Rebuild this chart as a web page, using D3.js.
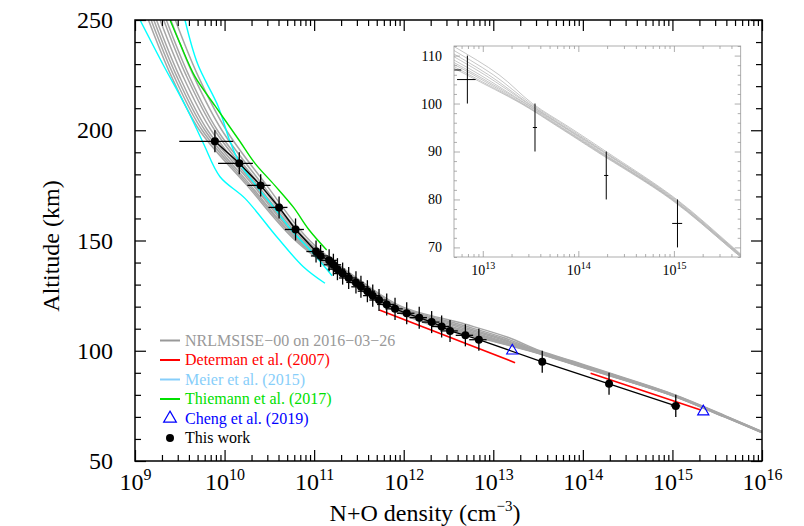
<!DOCTYPE html>
<html>
<head>
<meta charset="utf-8">
<script src="https://cdn.jsdelivr.net/npm/d3@7"></script>
<style>
  body { margin: 0; background: #fff; }
  svg, svg text { font-family: "Liberation Serif", "Times New Roman", serif; }
</style>
</head>
<body>
<svg id="chart" width="804" height="526"></svg>
<script>
// ---- data ----
// this work: altitude (km), N+O density (cm^-3), relative density error
var thisAlt = [195, 185, 175, 165, 155, 145, 143, 141, 139, 137, 135, 133, 131, 129, 127, 125, 123, 121, 119, 117, 115, 113, 111, 109, 107, 105, 95, 85, 75];
var thisDens = [7.8e9, 1.46e10, 2.53e10, 4.06e10, 6.2e10, 1.05e11, 1.18e11, 1.47e11, 1.64e11, 1.82e11, 2.08e11, 2.43e11, 2.93e11, 3.33e11, 3.93e11, 4.51e11, 5.3e11, 6.46e11, 8.0e11, 1.08e12, 1.49e12, 2.05e12, 2.65e12, 3.29e12, 4.88e12, 6.9e12, 3.52e13, 1.96e14, 1.09e15];
var thisDensErr = [0.6, 0.42, 0.29, 0.24, 0.24, 0.22, 0.22, 0.22, 0.22, 0.22, 0.22, 0.22, 0.22, 0.22, 0.22, 0.22, 0.22, 0.22, 0.22, 0.22, 0.22, 0.22, 0.22, 0.22, 0.22, 0.22, 0.05, 0.05, 0.12];
var altErr = 5;

// NRLMSISE-00 profiles: log10 density at each altitude
var msisAlt = [250, 225, 200, 175, 150, 130, 120, 112, 106, 100, 95, 90, 80, 70, 63];
var msisLogDens = [
  [9.15, 9.40, 9.72, 10.25, 10.79, 11.44, 11.80, 12.28, 12.83, 13.40, 13.80, 14.19, 14.97, 15.58, 15.99],
  [9.18, 9.43, 9.75, 10.27, 10.81, 11.45, 11.82, 12.32, 12.86, 13.41, 13.81, 14.20, 14.98, 15.58, 15.99],
  [9.21, 9.46, 9.78, 10.29, 10.82, 11.47, 11.84, 12.36, 12.90, 13.42, 13.82, 14.21, 14.98, 15.59, 16.00],
  [9.24, 9.49, 9.81, 10.32, 10.84, 11.48, 11.85, 12.40, 12.93, 13.44, 13.83, 14.22, 14.99, 15.59, 16.00],
  [9.28, 9.53, 9.85, 10.34, 10.86, 11.50, 11.88, 12.45, 12.97, 13.45, 13.85, 14.23, 14.99, 15.60, 16.00],
  [9.32, 9.57, 9.89, 10.37, 10.88, 11.52, 11.90, 12.51, 13.02, 13.47, 13.86, 14.25, 15.00, 15.60, 16.01],
  [9.35, 9.60, 9.92, 10.40, 10.90, 11.54, 11.92, 12.56, 13.06, 13.48, 13.87, 14.26, 15.01, 15.61, 16.01],
  [9.40, 9.65, 9.97, 10.43, 10.92, 11.56, 11.95, 12.62, 13.11, 13.50, 13.89, 14.27, 15.02, 15.61, 16.02],
  [9.45, 9.70, 10.02, 10.47, 10.95, 11.58, 11.98, 12.69, 13.17, 13.52, 13.91, 14.29, 15.03, 15.62, 16.02]
];

// Meier et al. (2015), two profiles
var meierAltA = [250, 229.6, 210, 194.1, 178.9, 169.1, 151.7, 138.1, 130.6];
var meierLogA = [9.056, 9.316, 9.577, 9.763, 9.949, 10.228, 10.582, 10.879, 11.121];
var meierAltB = [250, 230, 210.7, 195, 185, 175, 165, 155, 145, 138, 134];
var meierLogB = [9.558, 9.70, 9.93, 10.06, 10.17, 10.35, 10.55, 10.74, 10.97, 11.12, 11.2];

// Thiemann et al. (2017)
var thiemAlt = [250, 239.4, 224.3, 210.7, 195, 185, 175, 165, 155, 145.7];
var thiemLog = [9.391, 9.502, 9.670, 9.90, 10.17, 10.34, 10.56, 10.77, 10.94, 11.14];

// Determan et al. (2007), two segments
var determanSegs = [
  {alt: [118.5, 94.6], dens: [5.35e11, 1.75e13]},
  {alt: [89.8, 73.1], dens: [1.22e14, 2.07e15]}
];

// Cheng et al. (2019)
var chengAlt = [100.0, 72.4];
var chengDens = [1.63e13, 2.21e15];

var legendLabels = ["NRLMSISE\u221200 on 2016\u221203\u221226", "Determan et al. (2007)", "Meier et al. (2015)", "Thiemann et al. (2017)", "Cheng et al. (2019)", "This work"];
var legendColors = ["#999999", "#ff0000", "#87cefa", "#00e000", "#0000ff", "#000000"];

var xTickExp = [9, 10, 11, 12, 13, 14, 15, 16];
var yTicks = [50, 100, 150, 200, 250];
var insetXTickExp = [13, 14, 15];
var insetYTicks = [70, 80, 90, 100, 110];

var FONT = "Liberation Serif, Times New Roman, serif";

// ---- layout ----
var svg = d3.select("#chart");
var margin = {top: 20, left: 135, bottom: 461, right: 762};

var x = d3.scaleLog().domain([1e9, 1e16]).range([margin.left, margin.right]);
var y = d3.scaleLinear().domain([50, 250]).range([margin.bottom, margin.top]);

svg.append("defs").append("clipPath").attr("id", "clipMain")
    .append("rect")
    .attr("x", margin.left).attr("y", margin.top)
    .attr("width", margin.right - margin.left).attr("height", margin.bottom - margin.top);

var plot = svg.append("g").attr("clip-path", "url(#clipMain)");

var curve = d3.curveCatmullRom.alpha(0.5);

// NRLMSISE band
var msisLine = d3.line()
    .x(function(d){ return x(Math.pow(10, d[1])); })
    .y(function(d){ return y(d[0]); })
    .curve(curve);

plot.selectAll("path.msis")
    .data(msisLogDens)
    .enter().append("path")
    .attr("class", "msis")
    .attr("fill", "none")
    .attr("stroke", "#a6a6a6")
    .attr("stroke-width", 1.5)
    .attr("d", function(row){ return msisLine(row.map(function(v, i){ return [msisAlt[i], v]; })); });

// Meier
[[meierAltA, meierLogA], [meierAltB, meierLogB]].forEach(function(p){
    plot.append("path")
        .attr("fill", "none")
        .attr("stroke", "#00ffff")
        .attr("stroke-width", 1.4)
        .attr("d", msisLine(p[0].map(function(a, i){ return [a, p[1][i]]; })));
});

// Thiemann
plot.append("path")
    .attr("fill", "none")
    .attr("stroke", "#00e000")
    .attr("stroke-width", 1.4)
    .attr("d", msisLine(thiemAlt.map(function(a, i){ return [a, thiemLog[i]]; })));

// Determan
var linLine = d3.line()
    .x(function(d){ return x(d[1]); })
    .y(function(d){ return y(d[0]); });

determanSegs.forEach(function(s){
    plot.append("path")
        .attr("fill", "none")
        .attr("stroke", "#ff0000")
        .attr("stroke-width", 1.6)
        .attr("d", linLine(s.alt.map(function(a, i){ return [a, s.dens[i]]; })));
});

// this work
var pts = thisAlt.map(function(a, i){ return {alt: a, dens: thisDens[i], err: thisDensErr[i]}; });

plot.append("path")
    .attr("fill", "none")
    .attr("stroke", "#000")
    .attr("stroke-width", 1.3)
    .attr("d", linLine(pts.map(function(d){ return [d.alt, d.dens]; })));

var eb = plot.append("g").attr("stroke", "#000").attr("stroke-width", 1.3);
eb.selectAll("line.v").data(pts).enter().append("line")
    .attr("x1", function(d){ return x(d.dens); })
    .attr("x2", function(d){ return x(d.dens); })
    .attr("y1", function(d){ return y(d.alt - altErr); })
    .attr("y2", function(d){ return y(d.alt + altErr); });
eb.selectAll("line.h").data(pts).enter().append("line")
    .attr("x1", function(d){ return x(d.dens * (1 - d.err)); })
    .attr("x2", function(d){ return x(d.dens * (1 + d.err)); })
    .attr("y1", function(d){ return y(d.alt); })
    .attr("y2", function(d){ return y(d.alt); });

plot.selectAll("circle.pt").data(pts).enter().append("circle")
    .attr("cx", function(d){ return x(d.dens); })
    .attr("cy", function(d){ return y(d.alt); })
    .attr("r", 4)
    .attr("fill", "#000");

// Cheng triangles
plot.selectAll("path.cheng").data(chengAlt).enter().append("path")
    .attr("transform", function(d, i){ return "translate(" + x(chengDens[i]) + "," + y(d) + ")"; })
    .attr("d", d3.symbol(d3.symbolTriangle, 55))
    .attr("fill", "none")
    .attr("stroke", "#0000ff")
    .attr("stroke-width", 1.1);

// ---- axes ----
var xMinor = [];
for (var e = 9; e < 16; e++) for (var k = 2; k <= 9; k++) xMinor.push(k * Math.pow(10, e));
var yMinor = d3.range(50, 251, 10).filter(function(v){ return v % 50 !== 0; });
var decades = xTickExp.map(function(p){ return Math.pow(10, p); });

function styleAxis(g){
    g.attr("font-family", FONT);
    g.select(".domain").remove();
    g.selectAll(".tick line").attr("stroke", "#000").attr("stroke-width", 1.2);
}

svg.append("g").attr("transform", "translate(0," + margin.bottom + ")")
    .call(d3.axisBottom(x).tickValues(xMinor).tickSize(-6).tickFormat("")).call(styleAxis);
svg.append("g").attr("transform", "translate(0," + margin.top + ")")
    .call(d3.axisTop(x).tickValues(xMinor).tickSize(-6).tickFormat("")).call(styleAxis);
svg.append("g").attr("transform", "translate(0," + margin.top + ")")
    .call(d3.axisTop(x).tickValues(decades).tickSize(-11).tickFormat("")).call(styleAxis);

var xAx = svg.append("g").attr("transform", "translate(0," + margin.bottom + ")")
    .call(d3.axisBottom(x).tickValues(decades).tickSize(-11).tickFormat("")).call(styleAxis);
xAx.selectAll(".tick text").remove();
xAx.selectAll(".tick").append("text")
    .attr("y", 29)
    .attr("fill", "#000")
    .attr("font-family", FONT)
    .attr("font-size", 24)
    .attr("text-anchor", "middle")
    .each(function(d){
        var t = d3.select(this);
        t.append("tspan").text("10");
        t.append("tspan").attr("dy", -10).attr("font-size", 16).text(Math.round(Math.log10(d)));
    });

svg.append("g").attr("transform", "translate(" + margin.left + ",0)")
    .call(d3.axisLeft(y).tickValues(yMinor).tickSize(-6).tickFormat("")).call(styleAxis);
svg.append("g").attr("transform", "translate(" + margin.right + ",0)")
    .call(d3.axisRight(y).tickValues(yMinor).tickSize(-6).tickFormat("")).call(styleAxis);
svg.append("g").attr("transform", "translate(" + margin.right + ",0)")
    .call(d3.axisRight(y).tickValues(yTicks).tickSize(-11).tickFormat("")).call(styleAxis);
var yAx = svg.append("g").attr("transform", "translate(" + margin.left + ",0)")
    .call(d3.axisLeft(y).tickValues(yTicks).tickSize(-11).tickPadding(22)).call(styleAxis);
yAx.attr("font-size", 24);
yAx.selectAll(".tick text").attr("fill", "#000");

svg.append("rect")
    .attr("x", margin.left).attr("y", margin.top)
    .attr("width", margin.right - margin.left).attr("height", margin.bottom - margin.top)
    .attr("fill", "none").attr("stroke", "#000").attr("stroke-width", 1.5);

// titles
var xt = svg.append("text")
    .attr("x", 425).attr("y", 521)
    .attr("font-family", FONT)
    .attr("text-anchor", "middle").attr("font-size", 24);
xt.append("tspan").text("N+O density (cm");
xt.append("tspan").attr("dy", -10).attr("font-size", 15).text("\u22123");
xt.append("tspan").attr("dy", 10).text(")");

svg.append("text")
    .attr("transform", "translate(59,246) rotate(-90)")
    .attr("font-family", FONT)
    .attr("text-anchor", "middle").attr("font-size", 24)
    .text("Altitude (km)");

// ---- legend ----
var leg = svg.append("g").attr("font-size", 16).attr("font-family", FONT);
legendLabels.forEach(function(lab, i){
    var yy = 340.5 + i * 19.5;
    if (i < 4) {
        leg.append("line").attr("x1", 160).attr("x2", 180).attr("y1", yy).attr("y2", yy)
            .attr("stroke", legendColors[i]).attr("stroke-width", 2);
    } else if (i === 4) {
        leg.append("path").attr("transform", "translate(170," + yy + ")")
            .attr("d", d3.symbol(d3.symbolTriangle, 70))
            .attr("fill", "none").attr("stroke", legendColors[i]).attr("stroke-width", 1.2);
    } else {
        leg.append("circle").attr("cx", 170).attr("cy", yy).attr("r", 4).attr("fill", "#000");
    }
    leg.append("text").attr("x", 185).attr("y", yy).attr("dy", "0.33em")
        .attr("fill", legendColors[i]).text(lab);
});

// ---- inset ----
var inset = {left: 454, right: 740.7, top: 46, bottom: 257};
var ix = d3.scaleLog().domain([5e12, 5e15]).range([inset.left, inset.right]);
var iy = d3.scaleLinear().domain([68, 112]).range([inset.bottom, inset.top]);

svg.append("rect")
    .attr("x", inset.left).attr("y", inset.top)
    .attr("width", inset.right - inset.left).attr("height", inset.bottom - inset.top)
    .attr("fill", "#fff");

svg.select("defs").append("clipPath").attr("id", "clipInset")
    .append("rect")
    .attr("x", inset.left).attr("y", inset.top)
    .attr("width", inset.right - inset.left).attr("height", inset.bottom - inset.top);

var ig = svg.append("g").attr("clip-path", "url(#clipInset)");

var iLine = d3.line()
    .x(function(d){ return ix(Math.pow(10, d[1])); })
    .y(function(d){ return iy(d[0]); })
    .curve(curve);

ig.selectAll("path.imsis").data(msisLogDens).enter().append("path")
    .attr("fill", "none")
    .attr("stroke", "#b8b8b8")
    .attr("stroke-width", 0.8)
    .attr("d", function(row){ return iLine(row.map(function(v, i){ return [msisAlt[i], v]; })); });

var ieb = ig.append("g").attr("stroke", "#000").attr("stroke-width", 1);
ieb.selectAll("line.v").data(pts).enter().append("line")
    .attr("x1", function(d){ return ix(d.dens); })
    .attr("x2", function(d){ return ix(d.dens); })
    .attr("y1", function(d){ return iy(d.alt - altErr); })
    .attr("y2", function(d){ return iy(d.alt + altErr); });
ieb.selectAll("line.h").data(pts).enter().append("line")
    .attr("x1", function(d){ return ix(d.dens * (1 - d.err)); })
    .attr("x2", function(d){ return ix(d.dens * (1 + d.err)); })
    .attr("y1", function(d){ return iy(d.alt); })
    .attr("y2", function(d){ return iy(d.alt); });

var ixMinor = [];
[12, 13, 14, 15].forEach(function(p){
    for (var k = 2; k <= 9; k++) {
        var v = k * Math.pow(10, p);
        if (v > 5e12 && v < 5e15) ixMinor.push(v);
    }
});
var iyMinor = d3.range(68, 113, 2).filter(function(v){ return v % 10 !== 0; });
var iDecades = insetXTickExp.map(function(p){ return Math.pow(10, p); });

function styleInset(g){
    g.attr("font-family", FONT);
    g.select(".domain").remove();
    g.selectAll(".tick line").attr("stroke", "#999").attr("stroke-width", 0.8);
}

svg.append("g").attr("transform", "translate(0," + inset.bottom + ")")
    .call(d3.axisBottom(ix).tickValues(ixMinor).tickSize(-3).tickFormat("")).call(styleInset);
svg.append("g").attr("transform", "translate(0," + inset.top + ")")
    .call(d3.axisTop(ix).tickValues(ixMinor).tickSize(-3).tickFormat("")).call(styleInset);
svg.append("g").attr("transform", "translate(0," + inset.top + ")")
    .call(d3.axisTop(ix).tickValues(iDecades).tickSize(-6).tickFormat("")).call(styleInset);
var ixAx = svg.append("g").attr("transform", "translate(0," + inset.bottom + ")")
    .call(d3.axisBottom(ix).tickValues(iDecades).tickSize(-6).tickFormat("")).call(styleInset);
ixAx.selectAll(".tick").append("text")
    .attr("y", 18)
    .attr("fill", "#000")
    .attr("font-family", FONT)
    .attr("font-size", 14)
    .attr("text-anchor", "middle")
    .each(function(d){
        var t = d3.select(this);
        t.append("tspan").text("10");
        t.append("tspan").attr("dy", -6).attr("font-size", 10).text(Math.round(Math.log10(d)));
    });

svg.append("g").attr("transform", "translate(" + inset.left + ",0)")
    .call(d3.axisLeft(iy).tickValues(iyMinor).tickSize(-3).tickFormat("")).call(styleInset);
svg.append("g").attr("transform", "translate(" + inset.right + ",0)")
    .call(d3.axisRight(iy).tickValues(iyMinor).tickSize(-3).tickFormat("")).call(styleInset);
svg.append("g").attr("transform", "translate(" + inset.right + ",0)")
    .call(d3.axisRight(iy).tickValues(insetYTicks).tickSize(-6).tickFormat("")).call(styleInset);
var iyAx = svg.append("g").attr("transform", "translate(" + inset.left + ",0)")
    .call(d3.axisLeft(iy).tickValues(insetYTicks).tickSize(-6).tickPadding(12)).call(styleInset);
iyAx.attr("font-size", 14);
iyAx.selectAll(".tick text").attr("fill", "#000");

svg.append("rect")
    .attr("x", inset.left).attr("y", inset.top)
    .attr("width", inset.right - inset.left).attr("height", inset.bottom - inset.top)
    .attr("fill", "none").attr("stroke", "#999").attr("stroke-width", 0.8);
</script>
</body>
</html>
